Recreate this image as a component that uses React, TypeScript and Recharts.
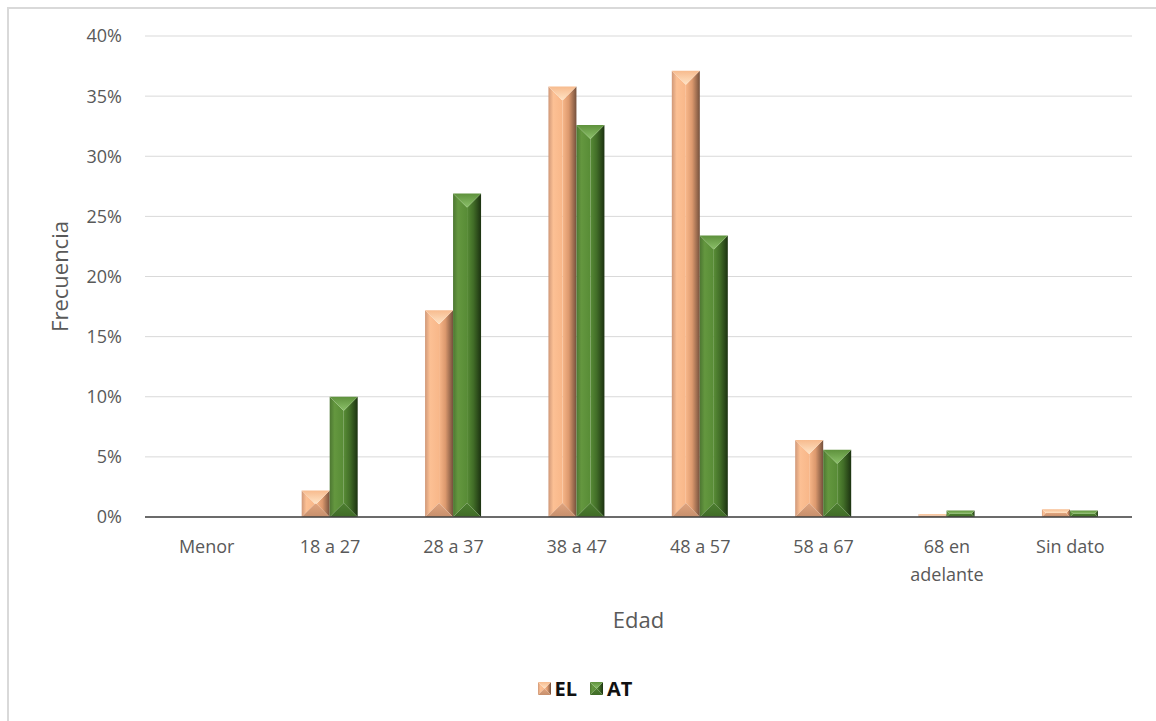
import React from 'react';
import { BarChart, Bar, XAxis, YAxis, CartesianGrid, Legend, Text } from 'recharts';

// Age groups and share of each group (percent)
const categories = ['Menor', '18 a 27', '28 a 37', '38 a 47', '48 a 57', '58 a 67', '68 en adelante', 'Sin dato'];
const elValues = [0, 2.2, 17.2, 35.8, 37.1, 6.4, 0.25, 0.65];
const atValues = [0, 10.0, 26.9, 32.6, 23.4, 5.6, 0.55, 0.55];
const yTicks = [0, 5, 10, 15, 20, 25, 30, 35, 40];

const data = categories.map((c, i) => ({ edad: c, EL: elValues[i], AT: atValues[i] }));

const FONT = '"Open Sans", "Noto Sans", sans-serif';

type Palette = {
  id: string;
  edgeL: string;
  lightL: string;
  face: string;
  midR: string;
  edgeR: string;
  topEdge: string;
  topApex: string;
  bottom: string;
  bottomApex: string;
};

const EL_PAL: Palette = {
  id: 'el',
  edgeL: '#d09878',
  lightL: '#fcc094',
  face: '#f8b789',
  midR: '#dc996e',
  edgeR: '#74503c',
  topEdge: '#f7bb8e',
  topApex: '#ffe4c6',
  bottom: '#e0a47e',
  bottomApex: '#c68f6c',
};

const AT_PAL: Palette = {
  id: 'at',
  edgeL: '#4d7732',
  lightL: '#64973f',
  face: '#588c36',
  midR: '#416d27',
  edgeR: '#1c3211',
  topEdge: '#5e913c',
  topApex: '#8cc16a',
  bottom: '#4d7f30',
  bottomApex: '#406b27',
};

// Bar with an angle bevel: four facets plus the front face
function BevelShape({ x, y, w, h, pal, uid }: { x: number; y: number; w: number; h: number; pal: Palette; uid: string }) {
  if (!(h > 0) || !(w > 0)) return null;
  const b = Math.min(w / 2, h / 2, 14);
  const gL = `gl-${uid}`;
  const gR = `gr-${uid}`;
  const gT = `gt-${uid}`;
  const gB = `gb-${uid}`;
  const x2 = x + w;
  const y2 = y + h;
  return (
    <g>
      <defs>
        <linearGradient id={gL} x1="0" y1="0" x2="1" y2="0">
          <stop offset="0" stopColor={pal.edgeL} />
          <stop offset="0.35" stopColor={pal.lightL} />
          <stop offset="1" stopColor={pal.face} />
        </linearGradient>
        <linearGradient id={gR} x1="0" y1="0" x2="1" y2="0">
          <stop offset="0" stopColor={pal.face} />
          <stop offset="0.45" stopColor={pal.midR} />
          <stop offset="1" stopColor={pal.edgeR} />
        </linearGradient>
        <linearGradient id={gT} x1="0" y1="0" x2="0" y2="1">
          <stop offset="0" stopColor={pal.topEdge} />
          <stop offset="1" stopColor={pal.topApex} />
        </linearGradient>
        <linearGradient id={gB} x1="0" y1="0" x2="0" y2="1">
          <stop offset="0" stopColor={pal.bottom} />
          <stop offset="1" stopColor={pal.bottomApex} />
        </linearGradient>
      </defs>
      <rect x={x + b} y={y + b} width={Math.max(0, w - 2 * b)} height={Math.max(0, h - 2 * b)} fill={pal.face} />
      <polygon points={`${x},${y} ${x + b},${y + b} ${x + b},${y2 - b} ${x},${y2}`} fill={`url(#${gL})`} />
      <polygon points={`${x2},${y} ${x2 - b},${y + b} ${x2 - b},${y2 - b} ${x2},${y2}`} fill={`url(#${gR})`} />
      <polygon points={`${x},${y} ${x2},${y} ${x2 - b},${y + b} ${x + b},${y + b}`} fill={`url(#${gT})`} />
      <polygon points={`${x},${y2} ${x2},${y2} ${x2 - b},${y2 - b} ${x + b},${y2 - b}`} fill={`url(#${gB})`} />
    </g>
  );
}

const makeShape = (pal: Palette) => (props: any) => (
  <BevelShape
    x={props.x}
    y={props.y}
    w={props.width}
    h={props.height}
    pal={pal}
    uid={`${pal.id}-${props.index}`}
  />
);

const tickStyle = { fontSize: 18, fontFamily: FONT };

const CategoryTick = (props: any) => {
  const { x, y, payload } = props;
  return (
    <Text
      x={x}
      y={y}
      width={92}
      textAnchor="middle"
      verticalAnchor="start"
      fill="#595959"
      fontSize={18}
      fontFamily={FONT}
      style={tickStyle}
      lineHeight={28}
    >
      {payload.value}
    </Text>
  );
};

const LegendIcon = ({ pal }: { pal: Palette }) => (
  <svg width={13} height={13} style={{ display: 'block' }}>
    <BevelShape x={0} y={0} w={13} h={13} pal={pal} uid={`leg-${pal.id}`} />
  </svg>
);

const legendItems = [
  { name: 'EL', pal: EL_PAL },
  { name: 'AT', pal: AT_PAL },
];

const LegendContent = () => (
  <div
    style={{
      display: 'flex',
      justifyContent: 'center',
      alignItems: 'center',
      height: 38,
      paddingLeft: 38,
      fontFamily: FONT,
      fontWeight: 700,
      fontSize: 20,
      color: '#111',
    }}
  >
    {legendItems.map((it, i) => (
      <div key={it.name} style={{ display: 'flex', alignItems: 'center', marginLeft: i === 0 ? 0 : 13 }}>
        <LegendIcon pal={it.pal} />
        <span style={{ marginLeft: 4 }}>{it.name}</span>
      </div>
    ))}
  </div>
);

export default function App() {
  return (
    <div style={{ position: 'absolute', left: 0, top: 0, width: 1156, height: 721, background: '#fff', overflow: 'hidden' }}>
      <div
        style={{
          position: 'absolute',
          left: 7,
          top: 7,
          width: 1160,
          height: 720,
          borderTop: '2px solid #d9d9d9',
          borderLeft: '2px solid #d9d9d9',
        }}
      />
      <div style={{ position: 'absolute', left: 0, top: 0 }}>
        <BarChart
          width={1156}
          height={721}
          data={data}
          margin={{ top: 36, right: 24, left: 0, bottom: 14 }}
          barGap={0}
          barCategoryGap="27%"
        >
          <CartesianGrid vertical={false} stroke="#d9d9d9" strokeWidth={1} />
          <YAxis
            width={145}
            domain={[0, 40]}
            ticks={yTicks}
            tickFormatter={(v: number) => `${v}%`}
            axisLine={false}
            tickLine={false}
            tickSize={0}
            tickMargin={23}
            tick={{ fill: '#595959', fontSize: 18, fontFamily: FONT }}
            label={{
              value: 'Frecuencia',
              angle: -90,
              position: 'insideLeft',
              offset: 60,
              style: { fill: '#595959', fontSize: 22, fontFamily: FONT, textAnchor: 'middle' },
            }}
          />
          <XAxis
            dataKey="edad"
            height={152}
            axisLine={{ stroke: '#404040', strokeWidth: 1.5 }}
            tickLine={false}
            tickSize={0}
            tickMargin={23}
            interval={0}
            tick={<CategoryTick />}
            label={{
              value: 'Edad',
              position: 'insideBottom',
              offset: 41,
              style: { fill: '#595959', fontSize: 22, fontFamily: FONT },
            }}
          />
          <Legend verticalAlign="bottom" align="center" content={<LegendContent />} wrapperStyle={{ height: 38 }} />
          <Bar dataKey="EL" isAnimationActive={false} fill="#f8b789" shape={makeShape(EL_PAL)} />
          <Bar dataKey="AT" isAnimationActive={false} fill="#588c36" shape={makeShape(AT_PAL)} />
        </BarChart>
      </div>
    </div>
  );
}
